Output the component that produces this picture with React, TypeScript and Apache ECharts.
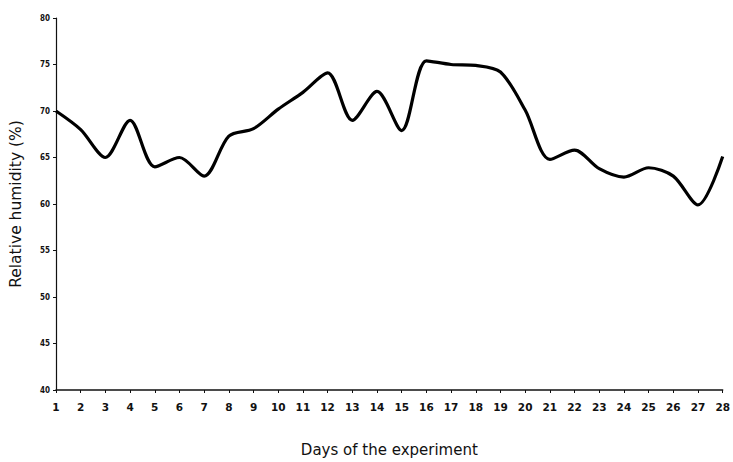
import React, { useEffect, useRef } from "react";
import * as echarts from "echarts";

// Days of the experiment and daily relative humidity (%)
const days: string[] = Array.from({ length: 28 }, (_, i) => String(i + 1));
const humidity: number[] = [
  70.0, 68.0, 65.0, 69.0, 64.0, 65.0, 63.0, 67.3, 68.1, 70.2,
  72.0, 74.1, 69.0, 72.1, 67.9, 75.4, 75.0, 74.9, 74.2, 70.1,
  64.8, 65.8, 63.8, 62.9, 63.9, 63.0, 59.9, 65.1,
];

const yMin = 40;
const yMax = 80;
const yStep = 5;

export default function App() {
  const ref = useRef<HTMLDivElement>(null);

  useEffect(() => {
    if (!ref.current) return;
    const chart = echarts.init(ref.current, null, { renderer: "svg" });
    chart.setOption({
      animation: false,
      backgroundColor: "#ffffff",
      grid: { left: 51, top: 18, width: 675, height: 377, containLabel: false },
      xAxis: {
        type: "category",
        data: days,
        boundaryGap: false,
        name: "Days of the experiment",
        nameLocation: "middle",
        nameGap: 52,
        nameTextStyle: { fontFamily: "DejaVu Sans", fontSize: 15, color: "#111" },
        axisLine: { lineStyle: { color: "#111", width: 1.5 } },
        axisTick: { alignWithLabel: true, length: 3, lineStyle: { color: "#111" } },
        axisLabel: {
          fontFamily: "DejaVu Sans",
          fontSize: 10.5,
          fontWeight: "bold",
          color: "#111",
          margin: 11,
          interval: 0,
        },
        splitLine: { show: false },
      },
      yAxis: {
        type: "value",
        min: yMin,
        max: yMax,
        interval: yStep,
        name: "Relative humidity (%)",
        nameLocation: "middle",
        nameGap: 32,
        nameTextStyle: { fontFamily: "DejaVu Sans", fontSize: 15.5, color: "#111" },
        axisLine: { show: true, lineStyle: { color: "#111", width: 1.2 } },
        axisTick: { show: true, length: 3, lineStyle: { color: "#111" } },
        axisLabel: {
          fontFamily: "DejaVu Sans Condensed",
          fontSize: 8,
          fontWeight: "bold",
          color: "#111",
          margin: 6,
        },
        splitLine: { show: false },
      },
      series: [
        {
          type: "line",
          data: humidity,
          smooth: 0.3,
          showSymbol: false,
          lineStyle: { color: "#000", width: 3.2 },
        },
      ],
    });
    return () => chart.dispose();
  }, []);

  return (
    <div
      ref={ref}
      style={{ position: "fixed", left: 0, top: 0, width: 733, height: 462, background: "#fff" }}
    />
  );
}
